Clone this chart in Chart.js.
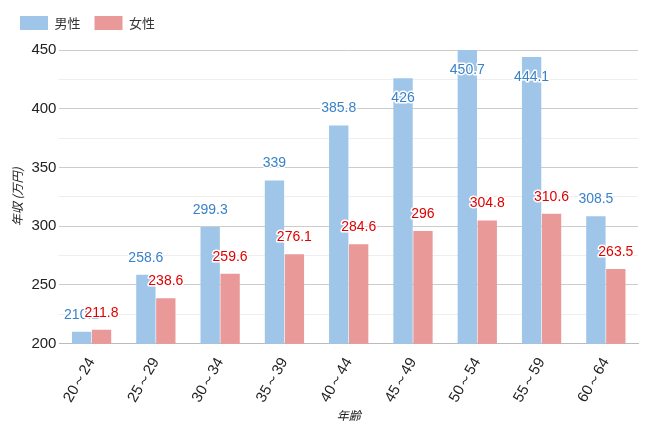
<!DOCTYPE html>
<html><head><meta charset="utf-8">
<script src="https://cdn.jsdelivr.net/npm/chart.js@4"></script>
<style>body{margin:0;background:#fff}#w{width:650px;height:423px}</style>
</head><body><div id="w"><canvas id="c"></canvas></div>
<script>
const categories=['20～24','25～29','30～34','35～39','40～44','45～49','50～54','55～59','60～64'];
const male=[210.2,258.6,299.3,339,385.8,426,450.7,444.1,308.5];
const female=[211.8,238.6,259.6,276.1,284.6,296,304.8,310.6,263.5];
const font="'Noto Sans CJK JP','Noto Sans',sans-serif";
const labelPlugin={id:'lbl',afterDatasetsDraw(ch){
 const ctx=ch.ctx,top=ch.chartArea.top;
 ch.data.datasets.forEach((ds,i)=>{
  const meta=ch.getDatasetMeta(i);
  meta.data.forEach((b,j)=>{
   let y=b.y-17; if(y<top+12) y=Math.max(b.y,top)+20;
   ctx.save();ctx.font="14px 'Liberation Sans',Arial,sans-serif";ctx.textAlign='center';ctx.textBaseline='middle';
   ctx.lineWidth=3;ctx.strokeStyle='#fff';ctx.lineJoin='round';
   const t=String(ds.data[j]);ctx.strokeText(t,b.x,y);
   ctx.fillStyle=i==0?'#3a82c8':'#e00000';ctx.fillText(t,b.x,y);ctx.restore();
  });
 });
}};
const legendPad={id:'lp',beforeInit(ch){const f=ch.legend.fit;ch.legend.fit=function(){f.bind(ch.legend)();this.height+=10;};}};
new Chart(document.getElementById('c'),{type:'bar',
 data:{labels:categories,datasets:[
  {label:'男性',data:male,backgroundColor:'#9fc5e8',borderWidth:0},
  {label:'女性',data:female,backgroundColor:'#ea9999',borderWidth:0}]},
 options:{responsive:true,maintainAspectRatio:false,animation:false,
  layout:{padding:{right:12,left:6,top:2}},
  datasets:{bar:{categoryPercentage:0.62,barPercentage:0.97}},
  plugins:{legend:{position:'top',align:'start',labels:{boxWidth:28,boxHeight:14,padding:14,font:{family:font,size:13},color:'#333'}},tooltip:{enabled:false}},
  scales:{
   x:{grid:{display:false},border:{color:'#bbb'},ticks:{maxRotation:60,minRotation:60,color:'#222',font:{family:"'Liberation Sans',sans-serif",size:15}},
      title:{display:true,text:'年齢',font:{family:font,size:12,style:'italic'},color:'#222',padding:0}},
   y:{min:200,max:450,border:{display:false},
      ticks:{stepSize:25,color:'#222',font:{family:"'Liberation Sans',sans-serif",size:15},callback:v=>v%50===0?v:''},
      grid:{color:c=>c.tick&&c.tick.value%50===0?'#ccc':'#eee',drawTicks:false},
      title:{display:true,text:'年収 (万円)',font:{family:font,size:12,style:'italic'},color:'#222'}}
  }},
 plugins:[labelPlugin,legendPad]});
</script></body></html>
